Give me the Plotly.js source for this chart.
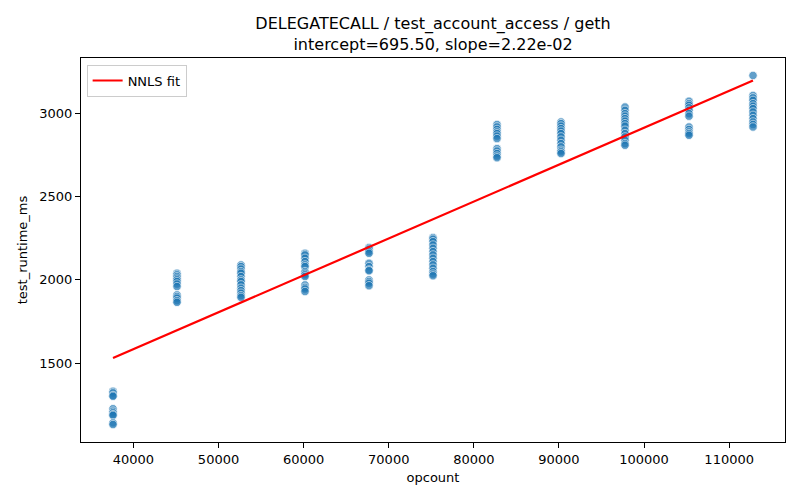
<!DOCTYPE html>
<html>
<head>
<meta charset="utf-8">
<script src="https://cdn.plot.ly/plotly-3.0.1.min.js"></script>
<style>body{margin:0;} #plot{width:800px;height:500px;}</style>
</head>
<body>
<div id="plot"></div>
<script>
// opcount groups
var opcounts = [37600, 45120, 52640, 60160, 67680, 75200, 82720, 90240, 97760, 105280, 112800]

// measured runtimes per opcount group (ms)
var rt_37600 = [1330, 1320, 1305, 1300, 1225, 1210, 1200, 1190, 1185, 1140, 1130]
var rt_45120 = [2040, 2030, 2020, 2010, 2000, 1990, 1975, 1960, 1910, 1900, 1890, 1875, 1865]
var rt_52640 = [2090, 2080, 2065, 2050, 2040, 2020, 2000, 1990, 1970, 1950, 1935, 1920, 1905, 1895]
var rt_60160 = [2160, 2150, 2130, 2110, 2090, 2080, 2050, 2040, 2030, 2020, 1970, 1955, 1945, 1930]
var rt_67680 = [2195, 2185, 2170, 2160, 2100, 2080, 2060, 2055, 2000, 1990, 1980, 1965]
var rt_75200 = [2255, 2245, 2230, 2210, 2190, 2170, 2150, 2130, 2110, 2090, 2070, 2050, 2035, 2025]
var rt_82720 = [2935, 2920, 2905, 2890, 2880, 2865, 2850, 2790, 2775, 2760, 2745, 2735]
var rt_90240 = [2950, 2940, 2925, 2910, 2895, 2880, 2860, 2840, 2820, 2800, 2780, 2770, 2760]
var rt_97760 = [3040, 3020, 3000, 2985, 2970, 2955, 2940, 2925, 2900, 2880, 2860, 2840, 2820, 2810]
var rt_105280 = [3075, 3060, 3050, 3035, 3020, 3000, 2985, 2920, 2905, 2890, 2880, 2870]
var rt_112800 = [3230, 3110, 3095, 3080, 3060, 3045, 3030, 3010, 2990, 2970, 2950, 2935, 2920]

// NNLS fit line end points
var fitX = [37600, 112800]
var fitY = [1530.2, 3199.7]

var groups = [rt_37600, rt_45120, rt_52640, rt_60160, rt_67680, rt_75200,
	rt_82720, rt_90240, rt_97760, rt_105280, rt_112800]

var xs = []
var ys = []
for (let i = 0; i < opcounts.length; i++) {
	for (let v of groups[i]) {
		xs.push(opcounts[i])
		ys.push(v)
	}
}

var font = 'DejaVu Sans, sans-serif'

var data = [
	{
		x: xs,
		y: ys,
		mode: 'markers',
		type: 'scatter',
		showlegend: false,
		marker: {
			size: 8.5,
			color: '#1f77b4',
			opacity: 0.7,
			line: {color: 'white', width: 0.8}
		}
	},
	{
		x: fitX,
		y: fitY,
		mode: 'lines',
		type: 'scatter',
		name: 'NNLS fit',
		line: {color: 'red', width: 2.2}
	}
]

var axisStyle = {
	showline: true,
	mirror: true,
	linecolor: 'black',
	linewidth: 1,
	ticks: 'outside',
	ticklen: 5,
	tickcolor: 'black',
	showgrid: false,
	zeroline: false,
	tickfont: {family: font, size: 13, color: 'black'}
}

var layout = {
	width: 800,
	height: 500,
	margin: {l: 81, r: 15, t: 58, b: 58},
	paper_bgcolor: 'white',
	plot_bgcolor: 'white',
	font: {family: font, color: 'black'},
	title: {
		text: 'DELEGATECALL / test_account_access / geth<br>intercept=695.50, slope=2.22e-02',
		font: {family: font, size: 16, color: 'black'},
		xref: 'paper',
		x: 0.5,
		y: 0.942,
		yanchor: 'top'
	},
	xaxis: Object.assign({}, axisStyle, {
		range: [33840, 116560],
		tickvals: [40000, 50000, 60000, 70000, 80000, 90000, 100000, 110000],
		ticktext: ['40000', '50000', '60000', '70000', '80000', '90000', '100000', '110000'],
		title: {text: 'opcount', font: {family: font, size: 13, color: 'black'}, standoff: 7}
	}),
	yaxis: Object.assign({}, axisStyle, {
		range: [1025, 3335],
		tickvals: [1500, 2000, 2500, 3000],
		ticktext: ['1500', '2000', '2500', '3000'],
		title: {text: 'test_runtime_ms', font: {family: font, size: 13, color: 'black'}, standoff: 8}
	}),
	legend: {
		x: 0.008,
		y: 0.983,
		xanchor: 'left',
		yanchor: 'top',
		bgcolor: 'white',
		bordercolor: '#cccccc',
		borderwidth: 1,
		font: {family: font, size: 13, color: 'black'}
	}
}

Plotly.newPlot('plot', data, layout, {displayModeBar: false})
</script>
</body>
</html>
